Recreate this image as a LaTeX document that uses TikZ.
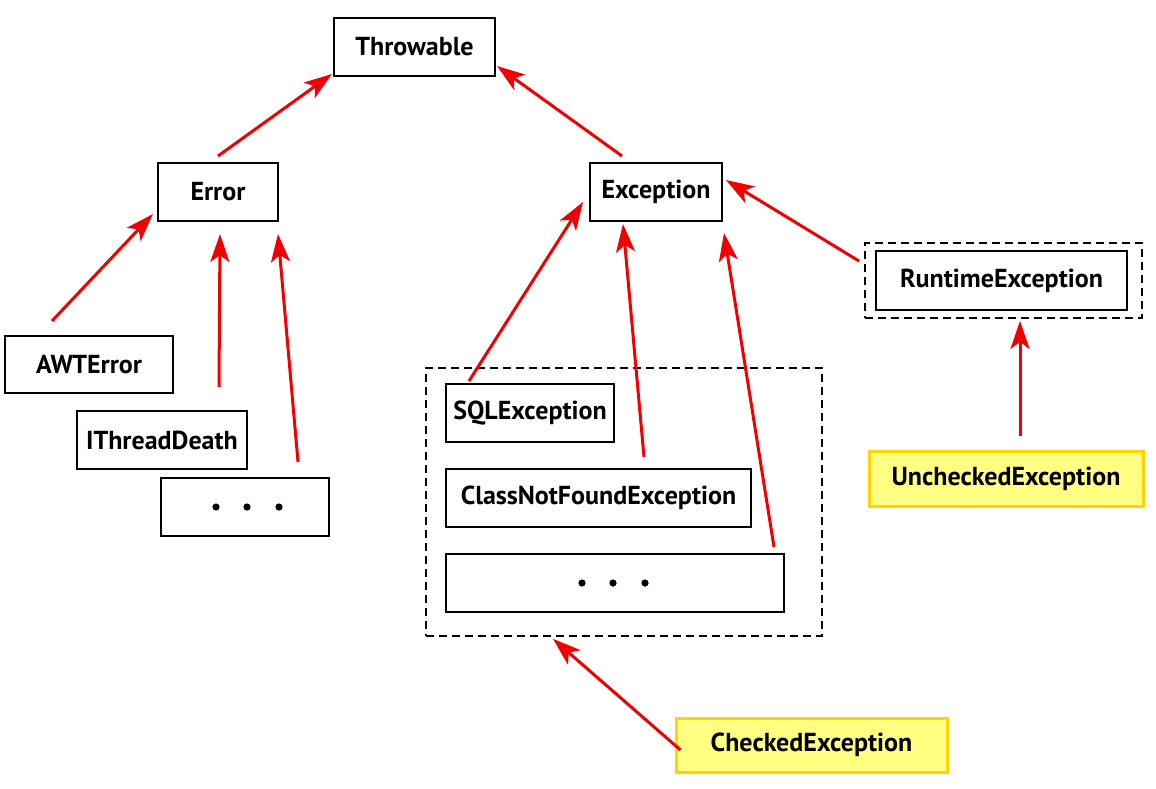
\documentclass[tikz,border=0pt]{standalone}
\usepackage{fontspec}
\setmainfont{PT Sans}
\usetikzlibrary{arrows.meta}
\definecolor{arrred}{RGB}{240,0,0}
\definecolor{ylwfill}{RGB}{255,255,130}
\definecolor{ylwline}{RGB}{255,212,0}
\tikzset{
  cls/.style={draw=black, line width=2pt, fill=white, inner sep=0pt, font=\fontsize{26}{30}\selectfont\bfseries},
  hl/.style={draw=ylwline, line width=3pt, fill=ylwfill, inner sep=0pt, font=\fontsize{26}{30}\selectfont\bfseries},
  grp/.style={draw=black, line width=1.8pt, dash pattern=on 8pt off 5pt, inner sep=0pt},
  inh/.style={draw=arrred, line width=3pt, -{Stealth[length=28pt,width=19pt,inset=7pt]}},
}
\begin{document}
\begin{tikzpicture}[x=1pt,y=-1pt]
\useasboundingbox[fill=white] (0,0) rectangle (1156,788);
% groups
\node[grp, minimum width=277pt, minimum height=75pt] (rtgrp) at (1003.5,280.5) {};
\node[grp, minimum width=396pt, minimum height=268pt] (chkgrp) at (624,502) {};
% classes
\node[cls, minimum width=161pt, minimum height=58pt] (thr) at (414.5,47) {Throwable};
\node[cls, minimum width=120pt, minimum height=58pt] (err) at (218,192) {Error};
\node[cls, minimum width=132pt, minimum height=58pt] (exc) at (656,192) {Exception};
\node[cls, minimum width=251pt, minimum height=59pt] (rt) at (1001.5,280.5) {RuntimeException};
\node[cls, minimum width=168pt, minimum height=57pt] (awt) at (89,364.5) {AWTError};
\node[cls, minimum width=170pt, minimum height=58pt] (itd) at (162,440) {IThreadDeath};
\node[cls, minimum width=168pt, minimum height=58pt] (edots) at (245,507) {};
\node[cls, minimum width=168pt, minimum height=58pt] (sql) at (530,413) {SQLException};
\node[cls, minimum width=305pt, minimum height=58pt] (cnf) at (598.5,498) {ClassNotFoundException};
\node[cls, minimum width=338pt, minimum height=58pt] (cdots) at (615,583) {};
\node[hl, minimum width=274pt, minimum height=55pt] (unc) at (1006,478.5) {UncheckedException};
\node[hl, minimum width=271pt, minimum height=54pt] (chkd) at (811.5,745) {CheckedException};
% dots
\foreach \dx in {-31,0,32} {
  \fill ([xshift=\dx pt, xshift=2pt]edots.center) circle (3.6pt);
  \fill ([xshift=\dx pt, xshift=-2pt]cdots.center) circle (3.6pt);
}
% inheritance arrows
\draw[inh] ([yshift=6pt]err.north) -- ([xshift=-1pt,yshift=3pt]thr.south west);
\draw[inh] ([xshift=-34pt,yshift=6pt]exc.north) -- ([xshift=1pt,yshift=11pt]thr.south east);
\draw[inh] ([xshift=48pt,yshift=14pt]awt.north west) -- ([xshift=-4pt,yshift=8pt]err.south west);
\draw[inh] ([xshift=57pt,yshift=23pt]itd.north) -- ([xshift=2pt,yshift=-12pt]err.south);
\draw[inh] ([xshift=53pt,yshift=15pt]edots.north) -- ([xshift=-1pt,yshift=-12pt]err.south east);
\draw[inh] ([xshift=24pt,yshift=2pt]sql.north west) -- ([xshift=-6pt,yshift=-10pt]exc.west);
\draw[inh] ([xshift=45.5pt,yshift=11pt]cnf.north) -- ([xshift=-33pt,yshift=-2pt]exc.south);
\draw[inh] ([xshift=-11pt,yshift=6pt]cdots.north east) -- ([xshift=1pt,yshift=-11pt]exc.south east);
\draw[inh] ([xshift=-5pt,yshift=-19pt]rtgrp.north west) -- ([xshift=3pt,yshift=12pt]exc.east);
\draw[inh] ([xshift=14pt,yshift=14pt]unc.north) -- ([xshift=16.5pt,yshift=-2pt]rtgrp.south);
\draw[inh] ([xshift=6pt,yshift=-5pt]chkd.west) -- ([xshift=-71pt,yshift=-2pt]chkgrp.south);
\end{tikzpicture}
\end{document}
